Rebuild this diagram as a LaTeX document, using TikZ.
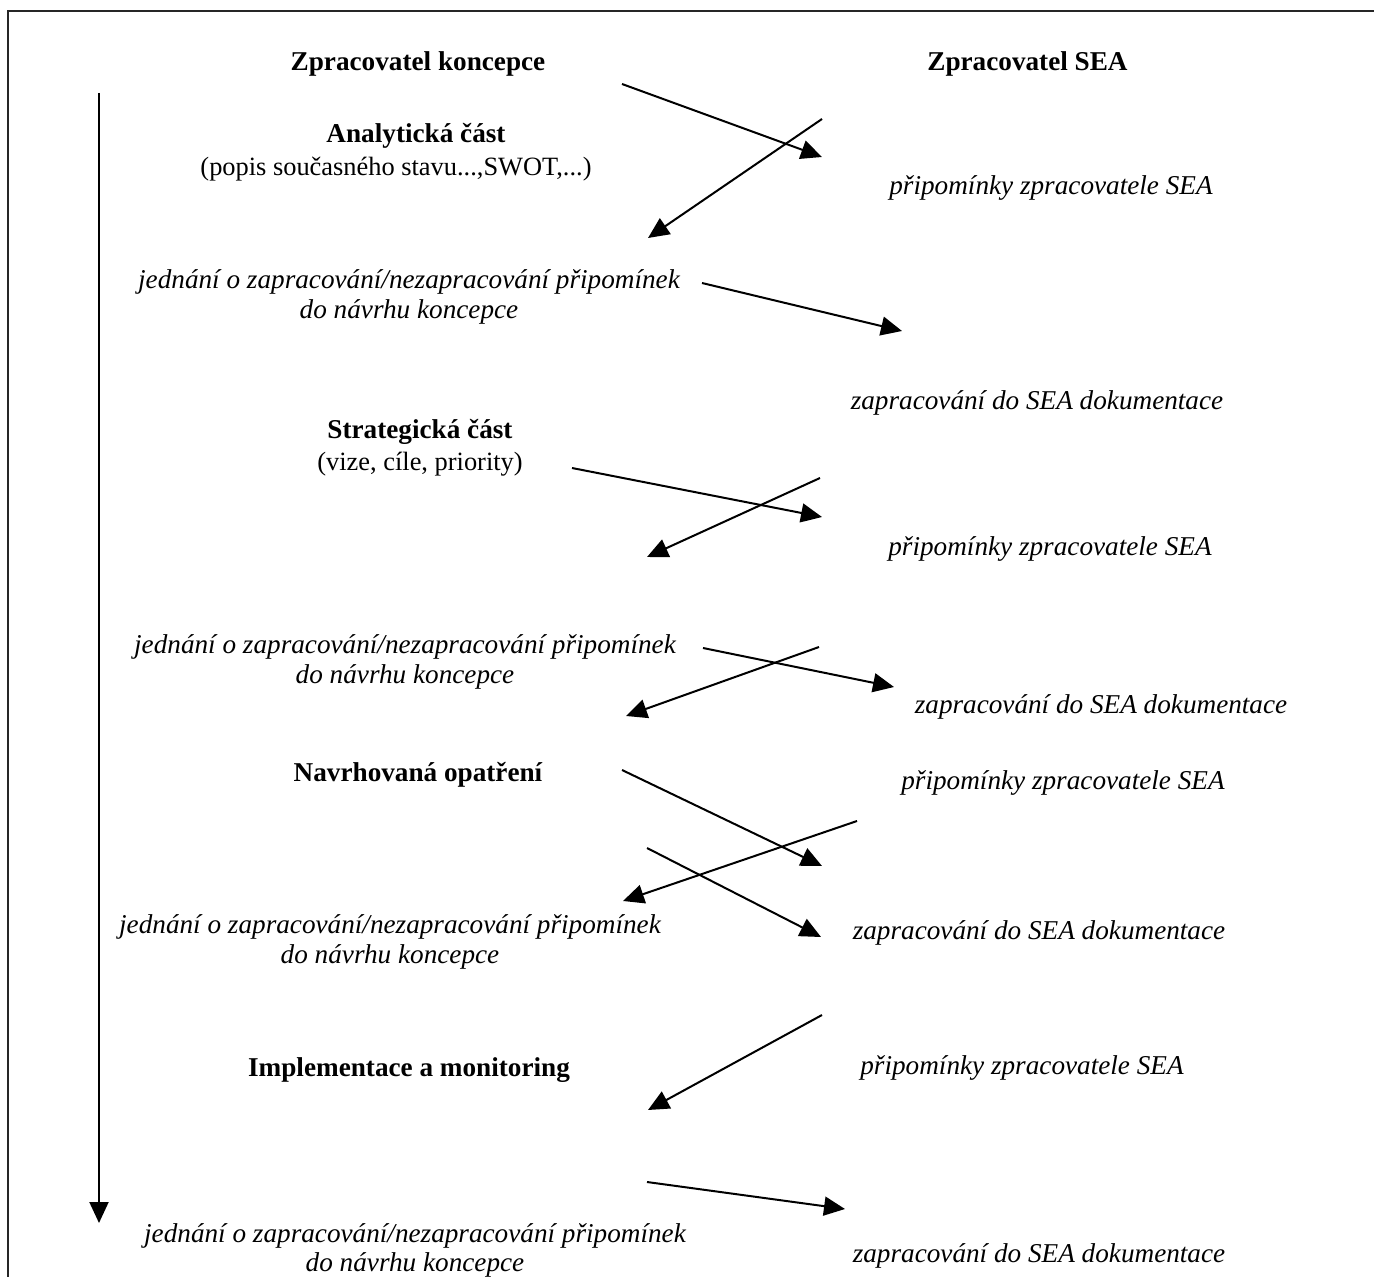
\documentclass[tikz,border=0pt]{standalone}
\usepackage{fontspec}
\setmainfont{Liberation Serif}
\usetikzlibrary{arrows.meta}
\begin{document}
\begin{tikzpicture}[x=0.5pt,y=-0.5pt,
  txt/.style={inner sep=0pt, anchor=base, font=\fontsize{13.2}{15}\selectfont},
  hd/.style={txt, font=\fontsize{13.6}{15}\selectfont\bfseries},
  it/.style={txt, font=\fontsize{13.6}{15}\selectfont\itshape},
  arr/.style={line width=1pt, -{Triangle[length=10.5pt,width=9.5pt]}},
  frame/.style={line width=0.8pt, black!85}]
\useasboundingbox (0,0) rectangle (1374,1277);
% frame
\coordinate (fr1) at (1374,11);
\coordinate (fr2) at (8,11);
\coordinate (fr3) at (8,1277);
\draw[frame] (fr1) -- (fr2) -- (fr3);
% time axis
\coordinate (ts) at (99,93);
\coordinate (te) at (99,1223);
\draw[arr] (ts) -- (te);
% headings
\node[hd] (hK) at (418,71) {Zpracovatel koncepce};
\node[hd, anchor=base east] (hS) at (1128,71) {Zpracovatel SEA};
% block 1
\node[hd] (an1) at (416,143) {Analytická část};
\node[txt] (an2) at (396,176) {(popis současného stavu...,SWOT,...)};
\node[it] (p1) at (1051,195) {připomínky zpracovatele SEA};
\node[it] (j1a) at (409,289) {jednání o zapracování/nezapracování připomínek};
\node[it] (j1b) at (409,319) {do návrhu koncepce};
\node[it] (z1) at (1037,410) {zapracování do SEA dokumentace};
% block 2
\node[hd] (st1) at (420,439) {Strategická část};
\node[txt] (st2) at (420,471) {(vize, cíle, priority)};
\node[it] (p2) at (1050,556) {připomínky zpracovatele SEA};
\node[it] (j2a) at (405,653) {jednání o zapracování/nezapracování připomínek};
\node[it] (j2b) at (405,683) {do návrhu koncepce};
\node[it] (z2) at (1101,713) {zapracování do SEA dokumentace};
% block 3
\node[hd] (na) at (418,781) {Navrhovaná opatření};
\node[it] (p3) at (1063,789) {připomínky zpracovatele SEA};
\node[it] (j3a) at (390,933) {jednání o zapracování/nezapracování připomínek};
\node[it] (j3b) at (390,963) {do návrhu koncepce};
\node[it] (z3) at (1039,939) {zapracování do SEA dokumentace};
% block 4
\node[hd] (im) at (409,1076) {Implementace a monitoring};
\node[it] (p4) at (1022,1074) {připomínky zpracovatele SEA};
\node[it] (j4a) at (415,1242) {jednání o zapracování/nezapracování připomínek};
\node[it] (j4b) at (415,1271) {do návrhu koncepce};
\node[it] (z4) at (1039,1262) {zapracování do SEA dokumentace};
% arrow end points
\coordinate (a1s) at (622,84);   \coordinate (a1e) at (822,157);
\coordinate (a2s) at (822,119);  \coordinate (a2e) at (648,238);
\coordinate (a3s) at (702,283);  \coordinate (a3e) at (902,331);
\coordinate (a4s) at (572,468);  \coordinate (a4e) at (822,517);
\coordinate (a5s) at (820,478);  \coordinate (a5e) at (647,557);
\coordinate (a6s) at (703,648);  \coordinate (a6e) at (894,687);
\coordinate (a7s) at (819,647);  \coordinate (a7e) at (626,716);
\coordinate (a8s) at (622,770);  \coordinate (a8e) at (822,866);
\coordinate (a9s) at (857,821);  \coordinate (a9e) at (623,901);
\coordinate (a10s) at (647,848); \coordinate (a10e) at (821,937);
\coordinate (a11s) at (822,1015);\coordinate (a11e) at (648,1110);
\coordinate (a12s) at (647,1182);\coordinate (a12e) at (845,1209);
\foreach \i in {1,...,12} {\draw[arr] (a\i s) -- (a\i e);}
\end{tikzpicture}
\end{document}
